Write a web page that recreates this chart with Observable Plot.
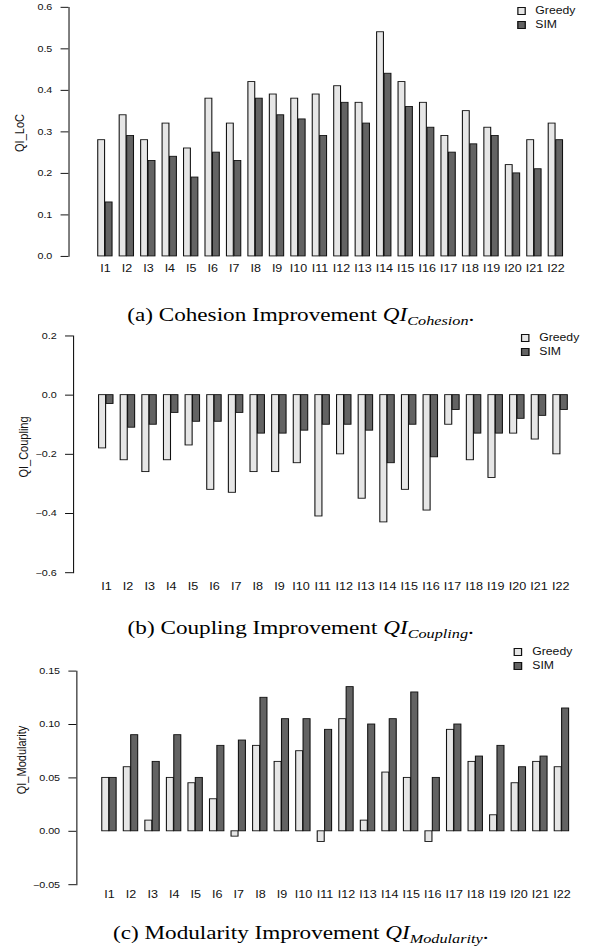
<!DOCTYPE html>
<html><head><meta charset="utf-8">
<script src="https://cdn.jsdelivr.net/npm/d3@7"></script>
<script src="https://cdn.jsdelivr.net/npm/@observablehq/plot@0.6"></script>
<style>
html,body{margin:0;padding:0;background:#fff;overflow:hidden;width:593px;height:949px}
#stage{position:absolute;left:0;top:0;width:486px;height:949px;transform:scaleX(1.22);transform-origin:0 0;overflow:visible}
.panel{position:absolute;left:0}
.panel svg{display:block;overflow:visible}
.ylab{position:absolute;font-family:"Liberation Sans",Arial,sans-serif;font-size:11px;color:#111;white-space:nowrap;transform:translate(-50%,-50%) rotate(-90deg)}
.cap{position:absolute;left:0;width:493px;text-align:center;font-family:"Liberation Serif","Times New Roman",serif;font-size:19px;line-height:22px;color:#000;white-space:nowrap}
.cap sub{font-size:0.7em;vertical-align:-0.3em;line-height:0}
.leg{position:absolute;font-family:"Liberation Sans",Arial,sans-serif;font-size:10px;color:#111;line-height:14px}
.leg .row{display:flex;align-items:center;height:14px}
.leg .sw{width:5px;height:6px;border:0.9px solid #111;margin-right:8px}
</style></head><body><div id="stage"></div><script>
// ---- data ----
const items = ["I1","I2","I3","I4","I5","I6","I7","I8","I9","I10","I11","I12","I13","I14","I15","I16","I17","I18","I19","I20","I21","I22"];
const seriesNames = ["Greedy", "SIM"];
const seriesColors = ["#e6e6e6", "#636363"];

const cohesionGreedy = [0.28,0.34,0.28,0.32,0.26,0.38,0.32,0.42,0.39,0.38,0.39,0.41,0.37,0.54,0.42,0.37,0.29,0.35,0.31,0.22,0.28,0.32];
const cohesionSIM    = [0.13,0.29,0.23,0.24,0.19,0.25,0.23,0.38,0.34,0.33,0.29,0.37,0.32,0.44,0.36,0.31,0.25,0.27,0.29,0.20,0.21,0.28];

const couplingGreedy = [-0.18,-0.22,-0.26,-0.22,-0.17,-0.32,-0.33,-0.26,-0.26,-0.23,-0.41,-0.20,-0.35,-0.43,-0.32,-0.39,-0.10,-0.22,-0.28,-0.13,-0.15,-0.20];
const couplingSIM    = [-0.03,-0.11,-0.10,-0.06,-0.09,-0.09,-0.06,-0.13,-0.13,-0.12,-0.10,-0.10,-0.12,-0.23,-0.10,-0.21,-0.05,-0.13,-0.13,-0.08,-0.07,-0.05];

const modularityGreedy = [0.05,0.06,0.01,0.05,0.045,0.03,-0.005,0.08,0.065,0.075,-0.01,0.105,0.01,0.055,0.05,-0.01,0.095,0.065,0.015,0.045,0.065,0.06];
const modularitySIM    = [0.05,0.09,0.065,0.09,0.05,0.08,0.085,0.125,0.105,0.105,0.095,0.135,0.10,0.105,0.13,0.05,0.10,0.07,0.08,0.06,0.07,0.115];

const cohesionTicks = [0, 0.1, 0.2, 0.3, 0.4, 0.5, 0.6];
const couplingTicks = [-0.6, -0.4, -0.2, 0, 0.2];
const modularityTicks = [-0.05, 0, 0.05, 0.10, 0.15];

const yTitles = ["QI_LoC", "QI_Coupling", "QI_Modularity"];
const captionLead = ["(a) Cohesion Improvement ", "(b) Coupling Improvement ", "(c) Modularity Improvement "];
const captionSub = ["Cohesion", "Coupling", "Modularity"];

// ---- build ----
const stage = document.getElementById("stage");
function rows(vals) {
  return items.map((it, i) => ({item: it, value: vals[i]}));
}

const wideFont = "'Liberation Sans', Arial, sans-serif";
const narrowFont = "'Liberation Sans Narrow', 'Arial Narrow', 'Liberation Sans', Arial, sans-serif";

const panels = [
  {g: cohesionGreedy, s: cohesionSIM, ticks: cohesionTicks, fmt: ".1f", top: 0, width: 497.5, height: 290, mt: 7, mb: 28, ml: 57.4, po: 0.872, fxFont: 10.5, fxFam: wideFont, fxPad: 8.7, ylx: 16.4, yly: 133, capY: 304, legX: 423.8, legY: 4},
  {g: couplingGreedy, s: couplingSIM, ticks: couplingTicks, fmt: ".1f", top: 320, width: 493.3, height: 281, mt: 15.7, mb: 25, ml: 60.7, po: 0.883, fxFont: 10.5, fxFam: narrowFont, fxPad: 10.2, ylx: 18.9, yly: 447, capY: 617, legX: 427, legY: 331},
  {g: modularityGreedy, s: modularitySIM, ticks: modularityTicks, fmt: ".2f", top: 650, width: 495.3, height: 258.7, mt: 21, mb: 20, ml: 63.7, po: 0.844, fxFont: 10.5, fxFam: narrowFont, fxPad: 6.5, ylx: 17.2, yly: 760, capY: 922, legX: 421.3, legY: 645}
];

panels.forEach((p, k) => {
  // half of the item band, from the same band-scale parameters Plot uses
  const half = d3.scaleBand(items, [p.ml, p.width]).paddingInner(1/3).paddingOuter(p.po).bandwidth() / 2;
  const svg = Plot.plot({
    width: p.width,
    height: p.height,
    marginLeft: p.ml,
    marginRight: 0,
    marginTop: p.mt,
    marginBottom: p.mb,
    style: {fontFamily: wideFont, background: "transparent", color: "#111"},
    x: {domain: items, paddingInner: 1/3, paddingOuter: p.po, axis: null},
    y: {domain: [p.ticks[0], p.ticks[p.ticks.length - 1]], axis: null},
    marks: [
      Plot.barY(rows(p.g), {x: "item", y: "value", fill: seriesColors[0], stroke: "#111", strokeWidth: 0.9, insetLeft: 0, insetRight: half}),
      Plot.barY(rows(p.s), {x: "item", y: "value", fill: seriesColors[1], stroke: "#111", strokeWidth: 0.9, insetLeft: half, insetRight: 0}),
      Plot.axisX({anchor: "bottom", tickSize: 0, tickPadding: p.fxPad, fontSize: p.fxFont, fontFamily: p.fxFam, label: null}),
      Plot.axisY({anchor: "left", ticks: p.ticks, tickFormat: d3.format(p.fmt), tickSize: 6.6, tickPadding: 7.4, fontSize: 9, label: null}),
      Plot.frame({anchor: "left", stroke: "#111", strokeWidth: 0.9})
    ]
  });
  const div = document.createElement("div");
  div.className = "panel";
  div.style.top = p.top + "px";
  div.appendChild(svg);
  stage.appendChild(div);

  const yl = document.createElement("div");
  yl.className = "ylab";
  yl.style.left = p.ylx + "px";
  yl.style.top = p.yly + "px";
  yl.textContent = yTitles[k];
  stage.appendChild(yl);

  const cap = document.createElement("div");
  cap.className = "cap";
  cap.style.top = p.capY + "px";
  cap.innerHTML = captionLead[k] + "<i>QI</i><sub><i>" + captionSub[k] + "</i></sub>.";
  stage.appendChild(cap);

  const leg = document.createElement("div");
  leg.className = "leg";
  leg.style.left = p.legX + "px";
  leg.style.top = p.legY + "px";
  seriesNames.forEach((n, j) => {
    const r = document.createElement("div");
    r.className = "row";
    const sw = document.createElement("span");
    sw.className = "sw";
    sw.style.background = seriesColors[j];
    const t = document.createElement("span");
    t.textContent = n;
    r.appendChild(sw); r.appendChild(t);
    leg.appendChild(r);
  });
  stage.appendChild(leg);
});
</script></body></html>
